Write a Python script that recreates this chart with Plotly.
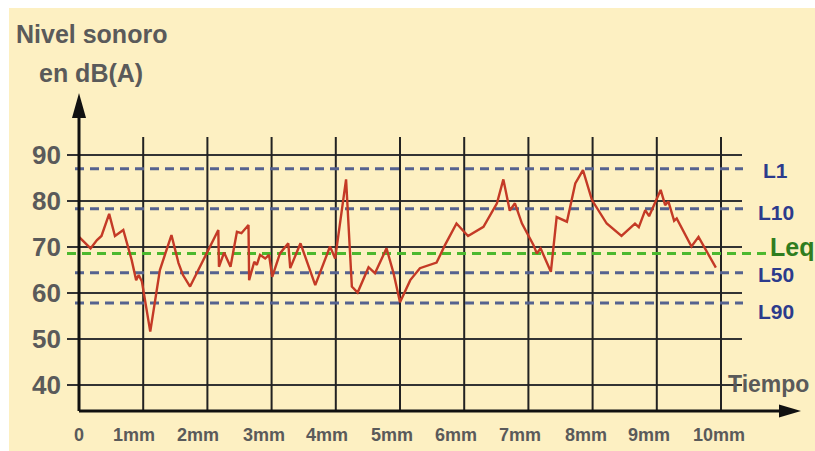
import plotly.graph_objects as go

# ---------------- data ----------------
times = [0, 0.18, 0.28, 0.35, 0.47, 0.56, 0.69, 0.82, 0.89, 0.93, 0.98, 1.11, 1.26, 1.44,
         1.55, 1.62, 1.73, 2.17, 2.18, 2.26, 2.36, 2.46, 2.53, 2.64, 2.65, 2.73, 2.77, 2.82,
         2.90, 2.96, 3.01, 3.13, 3.26, 3.29, 3.45, 3.68, 3.91, 3.99, 4.16, 4.25, 4.34, 4.51,
         4.61, 4.79, 4.90, 5.00, 5.16, 5.31, 5.57, 5.70, 5.88, 6.06, 6.30, 6.51, 6.61, 6.71,
         6.79, 6.90, 7.08, 7.13, 7.19, 7.35, 7.44, 7.60, 7.73, 7.85, 7.99, 8.22, 8.45, 8.66,
         8.72, 8.82, 8.88, 9.06, 9.13, 9.18, 9.27, 9.31, 9.54, 9.65, 9.92]
levels = [72.2, 69.7, 71.5, 72.4, 77.2, 72.4, 73.7, 67.2, 62.8, 63.9, 62.5, 51.6, 65.0, 72.6,
          66.5, 63.9, 61.4, 73.7, 65.7, 68.8, 65.7, 73.3, 73.0, 74.8, 62.8, 66.8, 66.1, 68.3,
          67.5, 68.3, 63.5, 68.6, 70.8, 65.4, 70.8, 61.7, 70.1, 67.5, 84.7, 61.4, 60.1, 65.6,
          64.3, 69.7, 64.3, 58.0, 62.8, 65.4, 66.6, 70.4, 75.1, 72.4, 74.4, 79.5, 84.7, 77.9,
          79.5, 75.1, 70.4, 68.6, 69.7, 64.6, 76.5, 75.5, 83.8, 86.7, 80.2, 75.1, 72.4, 75.1,
          74.3, 78.0, 76.7, 82.4, 79.1, 79.9, 75.7, 76.2, 70.1, 72.2, 65.5]

ref_names = ["L1", "L10", "Leq", "L50", "L90"]
ref_values = [87.0, 78.3, 68.6, 64.4, 57.8]

y_ticks = [40, 50, 60, 70, 80, 90]
x_ticks = [0, 1, 2, 3, 4, 5, 6, 7, 8, 9, 10]
x_tick_labels = ["0", "1mm", "2mm", "3mm", "4mm", "5mm", "6mm", "7mm", "8mm", "9mm", "10mm"]

# ---------------- geometry helpers ----------------
W, H = 815, 451
X0_PX, PX_PER_MIN = 79.0, 64.2
Y90_PX, PX_PER_DB = 155.0, 4.6
xmin = -X0_PX / PX_PER_MIN
xmax = xmin + W / PX_PER_MIN
ymax = 90 + Y90_PX / PX_PER_DB
ymin = 90 - (H - Y90_PX) / PX_PER_DB


def X(px):
    return xmin + px / PX_PER_MIN


def Y(py):
    return 90 - (py - Y90_PX) / PX_PER_DB


GRAY = "#5a5a5a"
NAVY = "#2c3b8c"
GREEN_TXT = "#2f7d1f"
FONT = "Liberation Sans, Arial, sans-serif"

fig = go.Figure()
shapes = []
annotations = []

# background panel
shapes.append(dict(type="rect", xref="paper", yref="paper", x0=9 / W, x1=1, y0=0, y1=1 - 8 / H,
                   fillcolor="#fdf0c2", line=dict(width=0), layer="below"))

axis_y = Y(411)
# horizontal grid lines
for v in y_ticks:
    shapes.append(dict(type="line", xref="x", yref="y", x0=X(67), x1=X(742), y0=v, y1=v,
                       line=dict(color="#333333", width=2), layer="below"))
# vertical grid lines
for t in x_ticks[1:]:
    shapes.append(dict(type="line", xref="x", yref="y", x0=t, x1=t, y0=axis_y, y1=Y(137),
                       line=dict(color="#222222", width=2), layer="below"))

# reference dashed lines
for name, v in zip(ref_names, ref_values):
    if name == "Leq":
        fig.add_trace(go.Scatter(x=[X(67), X(766)], y=[v, v], mode="lines",
                                 line=dict(color="#4cb82e", width=3, dash="9px,6px"),
                                 hoverinfo="skip", showlegend=False))
    else:
        fig.add_trace(go.Scatter(x=[X(75), X(743)], y=[v, v], mode="lines",
                                 line=dict(color="#55628f", width=3, dash="9px,6px"),
                                 hoverinfo="skip", showlegend=False))

# sound level series
fig.add_trace(go.Scatter(x=times, y=levels, mode="lines",
                         line=dict(color="#c43a26", width=2.4),
                         hoverinfo="skip", showlegend=False))

# axes with arrows
shapes.append(dict(type="line", xref="x", yref="y", x0=0, x1=0, y0=axis_y, y1=Y(112),
                   line=dict(color="#111111", width=3), layer="above"))
shapes.append(dict(type="path", xref="x", yref="y",
                   path=f"M {X(79)} {Y(93)} L {X(72)} {Y(118)} L {X(86)} {Y(118)} Z",
                   fillcolor="#111111", line=dict(width=0), layer="above"))
shapes.append(dict(type="line", xref="x", yref="y", x0=0, x1=X(784), y0=axis_y, y1=axis_y,
                   line=dict(color="#111111", width=3), layer="above"))
shapes.append(dict(type="path", xref="x", yref="y",
                   path=f"M {X(801)} {Y(411)} L {X(779)} {Y(404.5)} L {X(779)} {Y(417.5)} Z",
                   fillcolor="#111111", line=dict(width=0), layer="above"))

# y tick labels
for v in y_ticks:
    annotations.append(dict(x=X(63), y=v, xref="x", yref="y", text=f"<b>{v}</b>", showarrow=False,
                            xanchor="right", yanchor="middle",
                            font=dict(family=FONT, size=26, color=GRAY)))
# x tick labels
x_shifts = [0, -9, -9, -8, -9, -8, -8, -8, -7, -8, -2]
for t, lab, s in zip(x_ticks, x_tick_labels, x_shifts):
    annotations.append(dict(x=t, y=Y(435), xref="x", yref="y", text=f"<b>{lab}</b>", showarrow=False,
                            xanchor="center", yanchor="middle", xshift=s,
                            font=dict(family=FONT, size=18, color=GRAY)))

# reference labels
label_pos = {"L1": (761, 170, 21, NAVY), "L10": (756, 212, 21, NAVY),
             "Leq": (768, 247, 25, GREEN_TXT), "L50": (756, 274, 21, NAVY),
             "L90": (756, 311, 21, NAVY)}
for name in ref_names:
    px, py, sz, col = label_pos[name]
    annotations.append(dict(x=X(px), y=Y(py), xref="x", yref="y", text=f"<b>{name}</b>",
                            showarrow=False, xanchor="left", yanchor="middle",
                            font=dict(family=FONT, size=sz, color=col)))

# titles
annotations.append(dict(x=X(14), y=Y(34), xref="x", yref="y", text="<b>Nivel sonoro</b>",
                        showarrow=False, xanchor="left", yanchor="middle",
                        font=dict(family=FONT, size=25, color=GRAY)))
annotations.append(dict(x=X(37), y=Y(73), xref="x", yref="y", text="<b>en dB(A)</b>",
                        showarrow=False, xanchor="left", yanchor="middle",
                        font=dict(family=FONT, size=25, color=GRAY)))
annotations.append(dict(x=X(726), y=Y(384), xref="x", yref="y", text="<b>Tiempo</b>",
                        showarrow=False, xanchor="left", yanchor="middle",
                        font=dict(family=FONT, size=23, color=GRAY)))

fig.update_layout(
    width=W, height=H, margin=dict(l=0, r=0, t=0, b=0),
    paper_bgcolor="white", plot_bgcolor="rgba(0,0,0,0)",
    xaxis=dict(range=[xmin, xmax], visible=False, fixedrange=True),
    yaxis=dict(range=[ymin, ymax], visible=False, fixedrange=True),
    shapes=shapes, annotations=annotations, showlegend=False,
)

fig.write_html("out.html", config={"displayModeBar": False},
               post_script="document.body.style.margin='0px';document.body.style.overflow='hidden';")
